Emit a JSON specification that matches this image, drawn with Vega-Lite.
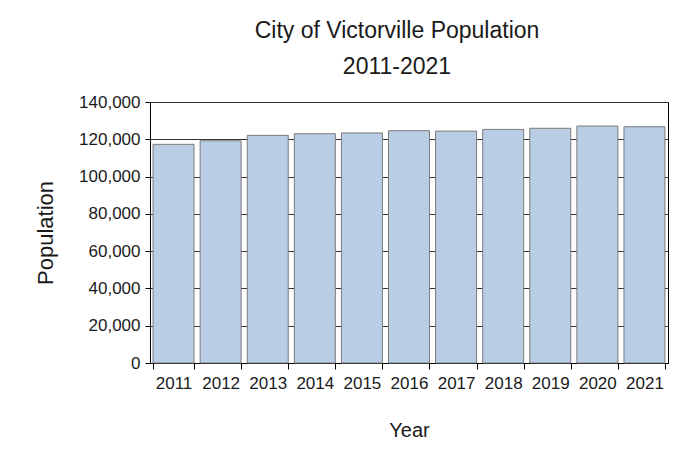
{
  "$schema": "https://vega.github.io/schema/vega-lite/v6.json",
  "autosize": {"type": "none"},
  "width": 518,
  "height": 261,
  "padding": {"left": 150, "top": 102, "right": 31, "bottom": 107},
  "background": "white",
  "title": {
    "text": ["City of Victorville Population", "2011-2021"],
    "font": "Liberation Sans",
    "fontSize": 23,
    "fontWeight": "normal",
    "color": "#1a1a1a",
    "lineHeight": 36,
    "offset": 14,
    "dx": -12,
    "anchor": "middle"
  },
  "data": {
    "values": [
      {"Year": "2011", "Population": 117300},
      {"Year": "2012", "Population": 119200},
      {"Year": "2013", "Population": 122100},
      {"Year": "2014", "Population": 123000},
      {"Year": "2015", "Population": 123400},
      {"Year": "2016", "Population": 124600},
      {"Year": "2017", "Population": 124400},
      {"Year": "2018", "Population": 125300},
      {"Year": "2019", "Population": 125900},
      {"Year": "2020", "Population": 127100},
      {"Year": "2021", "Population": 126700}
    ]
  },
  "mark": {"type": "bar", "fill": "#b9cde5", "stroke": "#7a7a7a", "strokeWidth": 1},
  "encoding": {
    "x": {
      "field": "Year",
      "type": "ordinal",
      "scale": {"paddingInner": 0.13, "paddingOuter": 0.065},
      "axis": {
        "labelAngle": 0,
        "tickBand": "extent",
        "tickSize": 6,
        "tickColor": "#000",
        "domainColor": "#000",
        "labelFont": "Liberation Sans",
        "labelFontSize": 17,
        "labelColor": "#1a1a1a",
        "labelPadding": 6,
        "title": "Year",
        "titleFont": "Liberation Sans",
        "titleFontSize": 20,
        "titleFontWeight": "normal",
        "titleColor": "#1a1a1a",
        "titlePadding": 29
      }
    },
    "y": {
      "field": "Population",
      "type": "quantitative",
      "scale": {"domain": [0, 140000], "nice": false},
      "axis": {
        "values": [0, 20000, 40000, 60000, 80000, 100000, 120000, 140000],
        "format": ",d",
        "grid": true,
        "gridColor": "#333",
        "gridOpacity": 1,
        "tickSize": 5,
        "tickColor": "#000",
        "domainColor": "#000",
        "labelFont": "Liberation Sans",
        "labelFontSize": 17,
        "labelColor": "#1a1a1a",
        "labelPadding": 5,
        "title": "Population",
        "titleFont": "Liberation Sans",
        "titleFontSize": 22,
        "titleFontWeight": "normal",
        "titleColor": "#1a1a1a",
        "titlePadding": 21
      }
    }
  },
  "config": {
    "view": {"stroke": "#000", "strokeWidth": 1}
  }
}
